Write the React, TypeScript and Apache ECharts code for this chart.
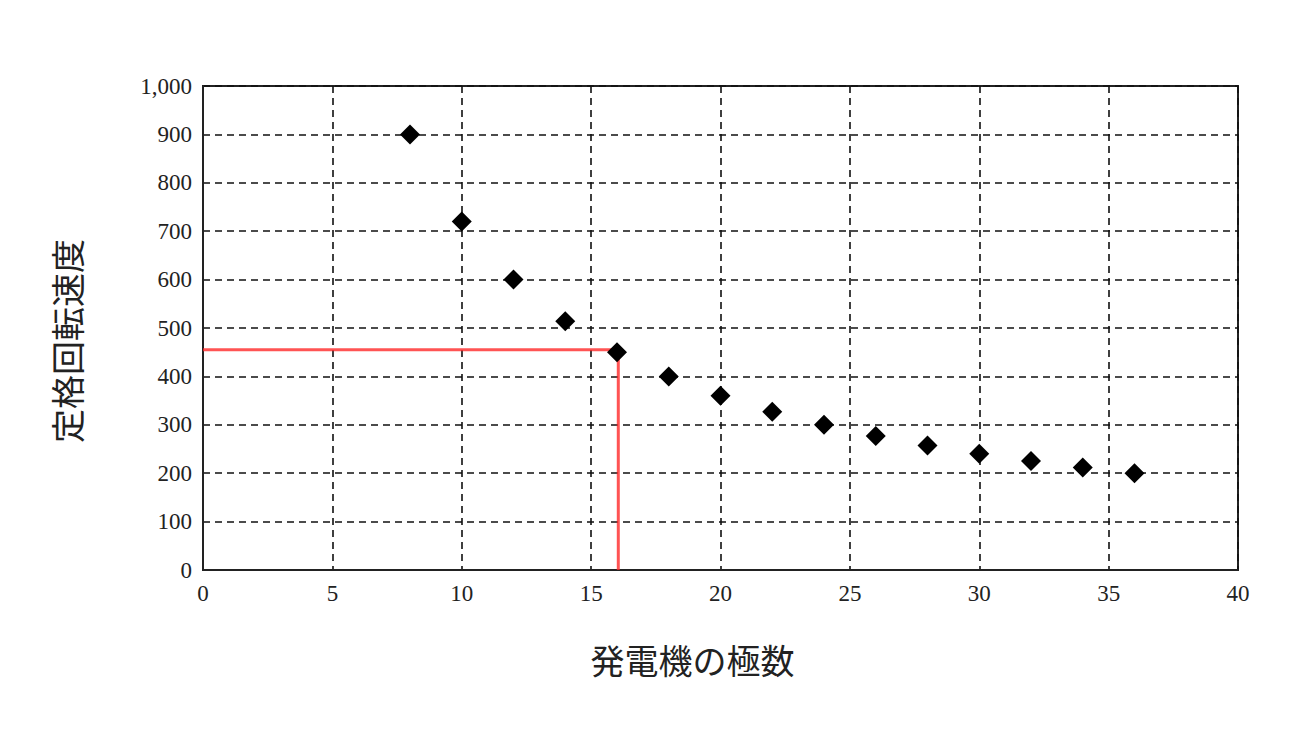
import React, { useEffect, useRef } from "react";
import * as echarts from "echarts";

const poles = [8, 10, 12, 14, 16, 18, 20, 22, 24, 26, 28, 30, 32, 34, 36];
const speeds = [900, 720, 600, 514, 450, 400, 360, 327, 300, 277, 257, 240, 225, 212, 200];
const guideX = [0, 16.05, 16.05];
const guideY = [455, 455, 0];

export default function App() {
  const ref = useRef<HTMLDivElement>(null);
  useEffect(() => {
    if (!ref.current) return;
    const chart = echarts.init(ref.current, null, { renderer: "svg" });
    const serif = "'Liberation Serif', 'DejaVu Serif', serif";
    const jp = "'Noto Sans CJK JP', sans-serif";
    chart.setOption({
      animation: false,
      backgroundColor: "#fff",
      grid: {
        left: 195,
        right: 54,
        top: 78,
        bottom: 153,
        show: true,
        borderColor: "#222",
        borderWidth: 2,
        backgroundColor: "transparent",
      },
      xAxis: {
        type: "value",
        min: 0,
        max: 40,
        interval: 5,
        name: "発電機の極数",
        nameLocation: "middle",
        nameGap: 72,
        nameTextStyle: { fontFamily: jp, fontSize: 34, color: "#222", padding: [0, 56, 0, 0] },
        axisLine: { show: true, lineStyle: { color: "#222", width: 2 } },
        axisTick: { show: false },
        axisLabel: { fontFamily: serif, fontSize: 23, color: "#222", margin: 12 },
        splitLine: { show: true, lineStyle: { color: "#111", type: [7, 5], width: 1.6 } },
      },
      yAxis: {
        type: "value",
        min: 0,
        max: 1000,
        interval: 100,
        name: "定格回転速度",
        nameLocation: "middle",
        nameGap: 120,
        nameRotate: 90,
        nameTextStyle: { fontFamily: jp, fontSize: 34, color: "#222", padding: [0, 26, 0, 0] },
        axisLine: { show: true, lineStyle: { color: "#222", width: 2 } },
        axisTick: { show: false },
        axisLabel: {
          fontFamily: serif,
          fontSize: 23,
          color: "#222",
          margin: 11,
          formatter: (v: number) => v.toLocaleString("en-US"),
        },
        splitLine: { show: true, lineStyle: { color: "#111", type: [7, 5], width: 1.6 } },
      },
      series: [
        {
          type: "line",
          data: guideX.map((x, i) => [x, guideY[i]]),
          symbol: "none",
          lineStyle: { color: "rgba(255,40,40,0.8)", width: 3 },
          z: 3,
        },
        {
          type: "scatter",
          data: poles.map((p, i) => [p, speeds[i]]),
          symbol: "diamond",
          symbolSize: [20, 20],
          itemStyle: { color: "#000", opacity: 1 },
          z: 4,
        },
      ],
    });
    return () => chart.dispose();
  }, []);
  return <div ref={ref} style={{ width: 1284, height: 715 }} />;
}
